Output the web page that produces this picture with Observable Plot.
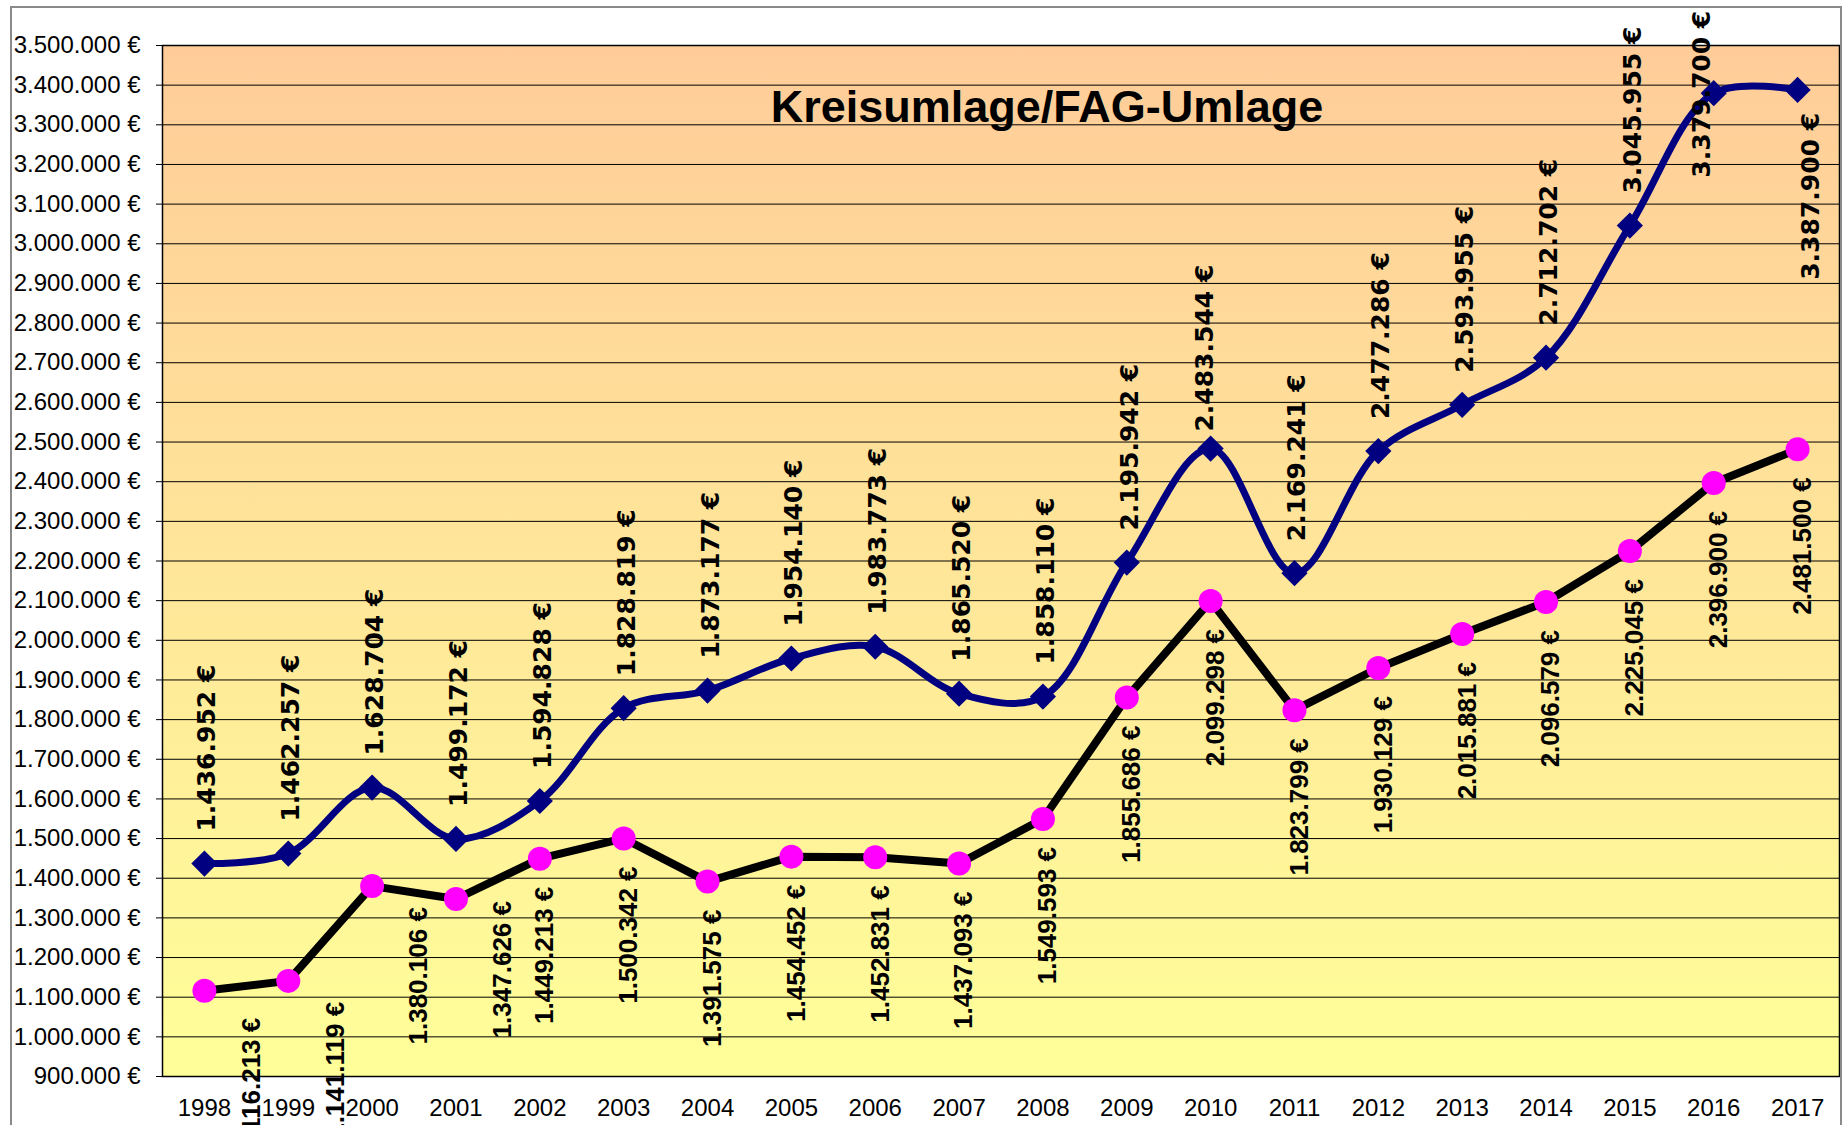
<!DOCTYPE html>
<html>
<head>
<meta charset="utf-8">
<script src="https://cdn.jsdelivr.net/npm/d3@7"></script>
<script src="https://cdn.jsdelivr.net/npm/@observablehq/plot@0.6"></script>
<style>
  html, body { margin: 0; padding: 0; background: #fff; overflow: hidden; width: 1845px; height: 1125px; }
  #wrap { position: relative; width: 1845px; height: 1125px; }
  #chart { position: absolute; left: 0; top: 0; }
  #border { position: absolute; left: 10px; top: 6px; width: 1832px; height: 1200px; border: 2px solid #8a8a8a; box-sizing: border-box; pointer-events: none; }
</style>
</head>
<body>
<div id="wrap"><div id="chart"></div><div id="border"></div></div>
<script>
// ---- data ----
const years = [1998, 1999, 2000, 2001, 2002, 2003, 2004, 2005, 2006, 2007,
               2008, 2009, 2010, 2011, 2012, 2013, 2014, 2015, 2016, 2017];
// upper series (navy, smoothed, diamonds)
const seriesA = [1436952, 1462257, 1628704, 1499172, 1594828, 1828819, 1873177, 1954140, 1983773, 1865520,
                 1858110, 2195942, 2483544, 2169241, 2477286, 2593955, 2712702, 3045955, 3379700, 3387900];
// lower series (black line, magenta dots)
const seriesB = [1116213, 1141119, 1380106, 1347626, 1449213, 1500342, 1391575, 1454452, 1452831, 1437093,
                 1549593, 1855686, 2099298, 1823799, 1930129, 2015881, 2096579, 2225045, 2396900, 2481500];
const yTicks = [900000, 1000000, 1100000, 1200000, 1300000, 1400000, 1500000, 1600000, 1700000,
                1800000, 1900000, 2000000, 2100000, 2200000, 2300000, 2400000, 2500000, 2600000,
                2700000, 2800000, 2900000, 3000000, 3100000, 3200000, 3300000, 3400000, 3500000];
const title = "Kreisumlage/FAG-Umlage";

const rows = years.map((year, i) => ({year, a: seriesA[i], b: seriesB[i]}));

const de = d3.formatLocale({decimal: ",", thousands: ".", grouping: [3], currency: ["", " €"]});
const num = de.format(",.0f");
const euro = v => num(v) + " €";

const fontA = {fontFamily: "'DejaVu Sans', Verdana, sans-serif", fontWeight: "bold", fontSize: 25, fill: "#000"};
const fontB = {fontFamily: "'Liberation Sans', Arial, sans-serif", fontWeight: "bold", fontSize: 26, fill: "#000"};
const labA = (data, extra) => Plot.text(data, {x: "year", y: "a", text: d => euro(d.a), rotate: -90, ...fontA, ...extra});
const labB = (data, extra) => Plot.text(data, {x: "year", y: "b", text: d => euro(d.b), rotate: -90, ...fontB, ...extra});

const svg = Plot.plot({
  width: 1845,
  height: 1125,
  marginLeft: 162,
  marginRight: 6,
  marginTop: 45,
  marginBottom: 49,
  style: {fontFamily: "'Liberation Sans', Arial, sans-serif", fontSize: "24px", color: "#000", background: "transparent"},
  x: {type: "linear", domain: [1997.5, 2017.5], ticks: years, tickFormat: d => String(d), tickSize: 0, tickPadding: 22, label: null},
  y: {domain: [900000, 3500000], ticks: yTicks, tickFormat: euro, tickSize: 6, tickPadding: 16, label: null},
  marks: [
    Plot.frame({fill: "url(#bgGrad)"}),
    Plot.ruleY(yTicks, {stroke: "#000", strokeWidth: 1}),
    Plot.frame({stroke: "#000", strokeWidth: 1.5}),
    // lower series
    Plot.line(rows, {x: "year", y: "b", stroke: "#000", strokeWidth: 8, strokeLinejoin: "round"}),
    Plot.dot(rows, {x: "year", y: "b", r: 12, fill: "#FF00FF", stroke: "none"}),
    // upper series
    Plot.line(rows, {x: "year", y: "a", stroke: "#000080", strokeWidth: 7, curve: "catmull-rom"}),
    Plot.dot(rows, {x: "year", y: "a", r: 11.8, symbol: "diamond2", fill: "#000080", stroke: "none"}),
    // labels upper series
    labA(rows.filter(d => d.year < 2016 && d.year !== 2010), {textAnchor: "start", dx: 3, dy: -32}),
    labA(rows.filter(d => d.year === 2010), {textAnchor: "start", dx: -6, dy: -17}),
    labA(rows.filter(d => d.year === 2016), {textAnchor: "middle", dx: -12, dy: 1}),
    labA(rows.filter(d => d.year === 2017), {textAnchor: "end", dx: 13, dy: 23}),
    // labels lower series
    labB(rows.filter(d => d.year > 2001), {textAnchor: "end", dx: 5, dy: 28}),
    labB(rows.filter(d => d.year === 1998), {textAnchor: "end", dx: 47, dy: 27}),
    labB(rows.filter(d => d.year === 1999 || d.year === 2000), {textAnchor: "end", dx: 47, dy: 21}),
    labB(rows.filter(d => d.year === 2001), {textAnchor: "end", dx: 47, dy: 2}),
    // title
    Plot.text([title], {text: d => d, frameAnchor: "top", lineAnchor: "middle", dx: 46, dy: 62, fontSize: 45, fontWeight: "bold", fill: "#000"})
  ]
});

const ns = "http://www.w3.org/2000/svg";
const defs = document.createElementNS(ns, "defs");
defs.innerHTML = '<linearGradient id="bgGrad" x1="0" y1="0" x2="0" y2="1">' +
  '<stop offset="0" stop-color="#FFCC99"/><stop offset="1" stop-color="#FFFF99"/></linearGradient>';
svg.insertBefore(defs, svg.firstChild);
document.getElementById("chart").appendChild(svg);
</script>
</body>
</html>
